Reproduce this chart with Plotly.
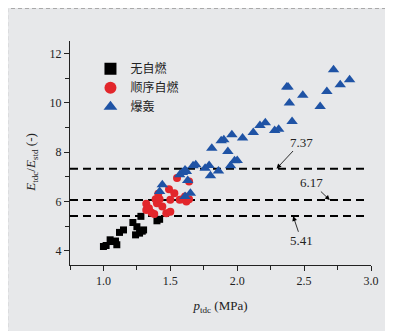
import plotly.graph_objects as go

# ---- data ----
none_x = [1.00, 1.02, 1.05, 1.06, 1.09, 1.10, 1.12, 1.15, 1.22, 1.24, 1.25, 1.27, 1.28, 1.29, 1.30, 1.40, 1.42]
none_y = [4.18, 4.22, 4.45, 4.38, 4.40, 4.25, 4.75, 4.85, 5.15, 4.65, 4.98, 4.72, 5.40, 4.80, 4.85, 5.22, 5.28]

seq_x = [1.32, 1.32, 1.34, 1.36, 1.38, 1.39, 1.40, 1.41, 1.42, 1.44, 1.47, 1.49, 1.50, 1.50, 1.53, 1.55, 1.57, 1.59, 1.62, 1.61, 1.64, 1.64]
seq_y = [5.91, 5.66, 5.73, 5.55, 5.49, 6.09, 5.93, 6.31, 6.09, 5.80, 5.53, 6.50, 5.59, 6.07, 6.34, 6.95, 6.07, 6.09, 6.00, 6.20, 6.09, 6.81]

det_x = [1.44, 1.42, 1.57, 1.59, 1.61, 1.62, 1.61, 1.65, 1.63, 1.67, 1.69, 1.76, 1.79, 1.80, 1.81, 1.86,
         1.88, 1.90, 1.93, 1.95, 1.96, 1.98, 2.00, 2.04, 2.12, 2.17, 2.21, 2.28, 2.31, 2.37, 2.38, 2.39,
         2.41, 2.49, 2.62, 2.67, 2.72, 2.77, 2.84]
det_y = [6.68, 6.41, 7.08, 7.18, 7.28, 7.22, 6.20, 6.34, 6.85, 7.45, 7.49, 7.35, 7.46, 7.04, 8.16, 7.24,
         8.46, 8.50, 8.03, 7.45, 8.70, 7.65, 7.66, 8.57, 8.80, 9.08, 9.19, 8.88, 8.93, 10.64, 10.64, 9.99,
         9.24, 10.30, 9.85, 10.46, 11.34, 10.73, 10.93]

series_names = ["无自燃", "顺序自燃", "爆轰"]

thr_values = [7.37, 6.17, 5.41]        # label values
thr_lines = [7.33, 6.06, 5.41]         # drawn positions
thr_label_xy = [(2.48, 8.41), (2.555, 6.77), (2.48, 4.41)]
thr_arrow_x = [2.294, 2.692, 2.418]

x_ticks = [1.0, 1.5, 2.0, 2.5, 3.0]
y_ticks = [4, 6, 8, 10, 12]

BG = "#e7e8ea"
SERIF = "Liberation Serif, Times New Roman, serif"
CJK = "Noto Sans CJK SC, sans-serif"

fig = go.Figure()

for yv in thr_lines:
    fig.add_trace(go.Scatter(x=[0.75, 2.97], y=[yv, yv], mode="lines",
                             line=dict(color="black", width=2, dash="8px,5px"),
                             showlegend=False, hoverinfo="skip"))

fig.add_trace(go.Scatter(x=none_x, y=none_y, mode="markers", name=series_names[0],
                         marker=dict(symbol="square", size=7, color="black")))
fig.add_trace(go.Scatter(x=seq_x, y=seq_y, mode="markers", name=series_names[1],
                         marker=dict(symbol="circle", size=8, color="#e2262b")))
fig.add_trace(go.Scatter(x=det_x, y=det_y, mode="markers", name=series_names[2],
                         marker=dict(symbol="triangle-up", size=10, color="#1f53a5")))

for val, (tx, ty), axx, yv in zip(thr_values, thr_label_xy, thr_arrow_x, thr_lines):
    fig.add_annotation(x=axx, y=yv, ax=tx, ay=ty, axref="x", ayref="y", xref="x", yref="y",
                       text=f"{val:.2f}", showarrow=True, arrowhead=2, arrowsize=1.2,
                       arrowwidth=0.8, arrowcolor="black", standoff=0,
                       font=dict(family=SERIF, size=13, color="#222"))

# y-axis title (placed as annotation to match its off-centre position)
fig.add_annotation(xref="paper", yref="paper", x=-0.127, y=0.46, xanchor="center", yanchor="middle",
                   textangle=-90, showarrow=False,
                   text="<i>E</i><sub>tdc</sub>/<i>E</i><sub>std</sub> (-)",
                   font=dict(family=SERIF, size=13, color="#222"))

fig.add_shape(type="rect", xref="paper", yref="paper", x0=-0.207, x1=1.3, y0=-0.4, y1=1.145,
              line=dict(color="#a8a8a8", width=1, dash="4px,3px"), fillcolor="rgba(0,0,0,0)",
              layer="below")

fig.update_layout(
    width=393, height=331,
    margin=dict(l=62, r=30, t=33, b=74),
    paper_bgcolor=BG, plot_bgcolor=BG,
    showlegend=True,
    legend=dict(x=0.068, y=0.941, xanchor="left", yanchor="top", bgcolor="rgba(0,0,0,0)",
                font=dict(family=CJK, size=12, color="#222"), tracegroupgap=0, itemsizing="constant"),
    xaxis=dict(range=[0.75, 3.0], tickvals=x_ticks, ticktext=[f"{v:.1f}" for v in x_ticks],
               automargin=False,
               showgrid=False, zeroline=False, showline=True, linecolor="#222", linewidth=1,
               ticks="outside", ticklen=5, tickcolor="#222",
               minor=dict(dtick=0.25, tick0=0.75, ticks="outside", ticklen=4, tickcolor="#222"),
               tickfont=dict(family=SERIF, size=12, color="#222"),
               title=dict(text="<i>p</i><sub>tdc</sub> (MPa)", font=dict(family=SERIF, size=13, color="#222"),
                          standoff=13)),
    yaxis=dict(range=[3.43, 12.5], tickvals=y_ticks, ticktext=[str(v) for v in y_ticks],
               automargin=False,
               showgrid=False, zeroline=False, showline=True, linecolor="#222", linewidth=1,
               ticks="outside", ticklen=5, tickcolor="#222",
               minor=dict(dtick=1, tick0=5, ticks="outside", ticklen=4, tickcolor="#222"),
               tickfont=dict(family=SERIF, size=12, color="#222")),
)

fig.write_html("out.html")
